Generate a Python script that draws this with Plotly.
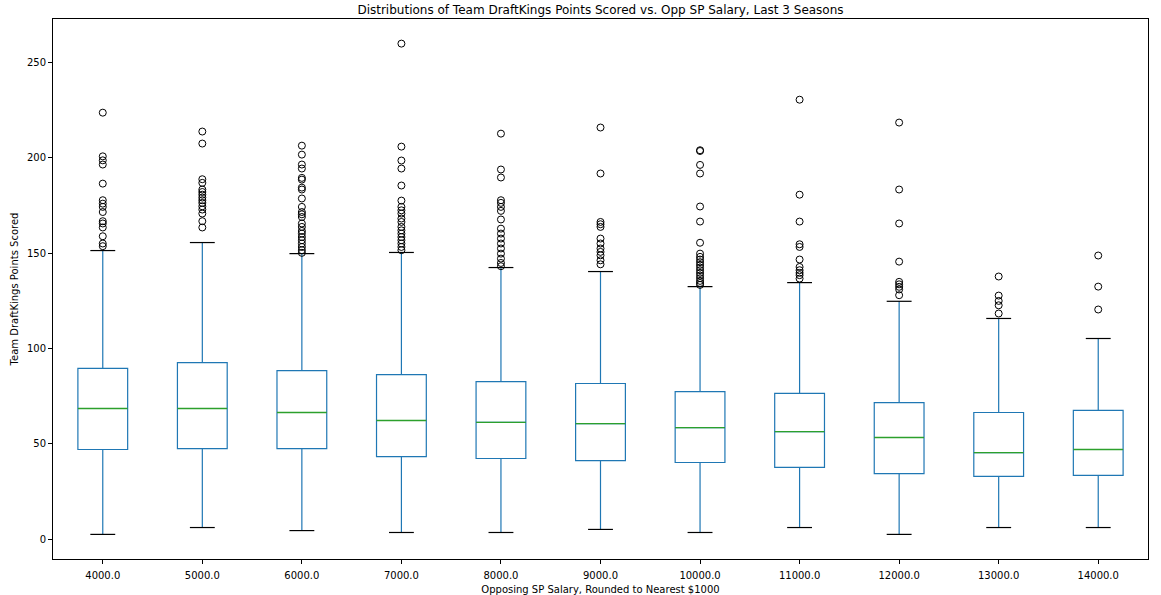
import plotly.graph_objects as go

# ---- data ----
salary_labels = ["4000.0", "5000.0", "6000.0", "7000.0", "8000.0", "9000.0",
                 "10000.0", "11000.0", "12000.0", "13000.0", "14000.0"]
q1 = [47.0, 47.5, 47.5, 43.3, 42.3, 41.2, 40.2, 37.6, 34.4, 32.9, 33.4]
median = [68.5, 68.5, 66.4, 62.2, 61.2, 60.6, 58.5, 56.4, 53.3, 45.4, 47.0]
q3 = [89.5, 92.6, 88.4, 86.3, 82.6, 81.6, 77.4, 76.4, 71.6, 66.4, 67.5]
whisker_low = [2.5, 6.1, 4.5, 3.5, 3.5, 5.1, 3.5, 6.1, 2.5, 6.1, 6.1]
whisker_high = [151.3, 155.5, 149.7, 150.3, 142.4, 140.3, 132.4, 134.5, 124.7, 115.7, 105.2]

outliers = [
    [223.6, 200.7, 198.6, 196.4, 186.4, 177.7, 175.9, 174.2, 171.5, 166.7, 165.5, 163.4, 158.8, 155.0, 153.6],
    [213.7, 207.4, 188.7, 186.8, 183.3, 182.0, 180.6, 179.1, 177.7, 176.3, 174.5, 172.8, 170.7, 166.7, 163.4],
    [206.3, 201.6, 196.4, 194.3, 189.4, 188.5, 184.3, 183.3, 178.6, 174.2, 171.5, 170.3, 168.9, 165.5,
     163.7, 161.6, 160.2, 158.4, 156.7, 155.0, 153.2, 151.5, 150.1],
    [259.8, 205.8, 198.5, 194.3, 185.4, 177.5, 174.2, 172.4, 170.7, 168.1, 166.3, 163.7, 161.9, 160.2,
     158.4, 156.7, 155.0, 153.2, 151.5],
    [212.6, 193.8, 189.6, 177.7, 176.3, 174.2, 172.1, 167.6, 162.8, 160.2, 157.6, 155.0, 152.4, 149.7,
     147.1, 144.8, 143.1],
    [215.8, 191.7, 166.3, 165.1, 163.7, 157.6, 155.0, 152.4, 150.6, 148.8, 146.2, 144.1],
    [203.9, 203.5, 196.2, 191.7, 174.4, 166.5, 155.4, 149.7, 148.0, 146.6, 145.2, 143.8, 142.4, 141.0,
     139.6, 138.2, 136.8, 135.4, 134.3, 133.3],
    [230.4, 180.6, 166.5, 154.6, 153.2, 146.6, 142.7, 141.0, 139.6, 138.4, 136.6],
    [218.4, 183.3, 165.5, 145.5, 134.9, 133.6, 132.3, 130.9, 127.9],
    [137.7, 127.7, 124.9, 122.6, 118.3],
    [148.7, 132.4, 120.4],
]

BLUE = "#1f77b4"
GREEN = "#2ca02c"
FONT = "DejaVu Sans"

positions = list(range(1, len(salary_labels) + 1))
box_w = 0.5
cap_w = 0.25

fig = go.Figure()

fig.add_trace(go.Box(
    x=positions, q1=q1, median=median, q3=q3,
    lowerfence=whisker_low, upperfence=whisker_high,
    width=box_w, whiskerwidth=0, boxpoints=False,
    fillcolor="rgba(0,0,0,0)", line=dict(color=BLUE, width=1.2),
    showlegend=False, hoverinfo="skip",
))

# median lines
mx, my = [], []
for p, m in zip(positions, median):
    mx += [p - box_w / 2, p + box_w / 2, None]
    my += [m, m, None]
fig.add_trace(go.Scatter(x=mx, y=my, mode="lines", line=dict(color=GREEN, width=1.3),
                         showlegend=False, hoverinfo="skip"))

# whisker caps
cx, cy = [], []
for p, lo, hi in zip(positions, whisker_low, whisker_high):
    cx += [p - cap_w / 2, p + cap_w / 2, None, p - cap_w / 2, p + cap_w / 2, None]
    cy += [lo, lo, None, hi, hi, None]
fig.add_trace(go.Scatter(x=cx, y=cy, mode="lines", line=dict(color="black", width=1.2),
                         showlegend=False, hoverinfo="skip"))

# outliers
ox, oy = [], []
for p, vals in zip(positions, outliers):
    ox += [p] * len(vals)
    oy += vals
fig.add_trace(go.Scatter(x=ox, y=oy, mode="markers",
                         marker=dict(symbol="circle-open", size=7, color="black",
                                     line=dict(color="black", width=1)),
                         showlegend=False, hoverinfo="skip"))

axis_common = dict(showline=True, linecolor="black", linewidth=1, mirror=True,
                   ticks="outside", ticklen=4, tickcolor="black", tickwidth=1,
                   showgrid=False, zeroline=False, automargin=False,
                   tickfont=dict(family=FONT, size=10, color="black"))

fig.update_layout(
    width=1161, height=595,
    margin=dict(l=53, r=13, t=19, b=36),
    paper_bgcolor="white", plot_bgcolor="white",
    font=dict(family=FONT, size=10, color="black"),
    title=dict(text="Distributions of Team DraftKings Points Scored vs. Opp SP Salary, Last 3 Seasons",
               x=0.5, xref="paper", xanchor="center", y=1 - 10 / 595, yref="container",
               yanchor="middle", font=dict(family=FONT, size=12, color="black")),
    xaxis=dict(range=[0.5, len(positions) + 0.5], tickmode="array",
               tickvals=positions, ticktext=salary_labels, ticklabelstandoff=3,
               title=dict(text="Opposing SP Salary, Rounded to Nearest $1000",
                          font=dict(family=FONT, size=10), standoff=6),
               **axis_common),
    yaxis=dict(range=[-10.4, 272.7], tickmode="array", tickvals=[0, 50, 100, 150, 200, 250],
               title=dict(text="Team DraftKings Points Scored", font=dict(family=FONT, size=10),
                          standoff=6),
               **axis_common),
)

fig.write_html("out.html", config={"displayModeBar": False},
               post_script="document.body.style.margin='0';")
